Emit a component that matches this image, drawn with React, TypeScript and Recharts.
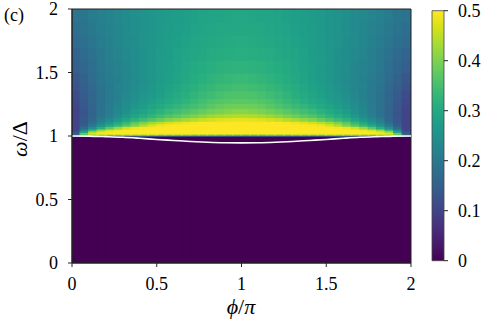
import React from "react";
import { BarChart, Bar, Cell, XAxis, YAxis, LineChart, Line, ReferenceArea } from "recharts";

// ---------- data ----------
// phase (phi/pi) at the centre of each heat-map column
const phiCenters = [
  0.025, 0.075, 0.125, 0.175, 0.225, 0.275, 0.325, 0.375, 0.425, 0.475,
  0.525, 0.575, 0.625, 0.675, 0.725, 0.775, 0.825, 0.875, 0.925, 0.975,
  1.025, 1.075, 1.125, 1.175, 1.225, 1.275, 1.325, 1.375, 1.425, 1.475,
  1.525, 1.575, 1.625, 1.675, 1.725, 1.775, 1.825, 1.875, 1.925, 1.975,
];
// energy (omega/Delta) bin edges above the gap edge; below 1 the map is 0
const omegaEdges = [1.0, 1.01, 1.02, 1.03, 1.045, 1.06, 1.08, 1.1, 1.12, 1.15, 1.18, 1.22, 1.26, 1.3, 1.36, 1.42, 1.5, 1.6, 1.7, 1.8, 1.9, 2.0];
const belowGapValue = 0;
// intensity of each cell, one row per omega bin (bottom to top), one value per phi column
const intensity = [
  [.08,.1,.12,.12,.12,.12,.12,.12,.12,.12, .12,.12,.12,.12,.12,.12,.12,.12,.12,.12, .12,.12,.12,.12,.12,.12,.12,.12,.12,.12, .12,.12,.12,.12,.12,.12,.12,.12,.1,.08],
  [.15,.35,.42,.43,.43,.43,.43,.43,.43,.43, .42,.42,.42,.42,.41,.41,.41,.4,.4,.4, .4,.4,.4,.41,.41,.41,.42,.42,.42,.42, .43,.43,.43,.43,.43,.43,.43,.42,.35,.15],
  [.16,.4,.485,.5,.5,.5,.5,.5,.5,.5, .5,.5,.5,.5,.5,.5,.5,.5,.5,.5, .5,.5,.5,.5,.5,.5,.5,.5,.5,.5, .5,.5,.5,.5,.5,.5,.5,.485,.4,.16],
  [.13,.3,.44,.485,.497,.5,.5,.5,.5,.5, .5,.5,.5,.5,.5,.5,.5,.5,.5,.5, .5,.5,.5,.5,.5,.5,.5,.5,.5,.5, .5,.5,.5,.5,.5,.497,.485,.44,.3,.13],
  [.11,.235,.335,.42,.468,.488,.497,.5,.5,.5, .5,.5,.5,.5,.5,.5,.5,.5,.5,.5, .5,.5,.5,.5,.5,.5,.5,.5,.5,.5, .5,.5,.5,.497,.488,.468,.42,.335,.235,.11],
  [.1,.17,.245,.31,.37,.42,.465,.485,.495,.5, .5,.5,.5,.5,.5,.5,.5,.5,.5,.5, .5,.5,.5,.5,.5,.5,.5,.5,.5,.5, .5,.495,.485,.465,.42,.37,.31,.245,.17,.1],
  [.1,.145,.2,.255,.295,.33,.365,.4,.44,.47, .487,.496,.5,.5,.5,.5,.5,.5,.5,.5, .5,.5,.5,.5,.5,.5,.5,.5,.496,.487, .47,.44,.4,.365,.33,.295,.255,.2,.145,.1],
  [.1,.14,.18,.225,.262,.3,.335,.37,.4,.425, .448,.466,.478,.488,.495,.5,.5,.5,.5,.5, .5,.5,.5,.5,.5,.495,.488,.478,.466,.448, .425,.4,.37,.335,.3,.262,.225,.18,.14,.1],
  [.1,.135,.165,.205,.234,.263,.292,.32,.34,.36, .38,.4,.414,.428,.442,.455,.465,.472,.477,.48, .48,.477,.472,.465,.455,.442,.428,.414,.4,.38, .36,.34,.32,.292,.263,.234,.205,.165,.135,.1],
  [.1,.133,.16,.19,.215,.24,.265,.29,.308,.325, .343,.36,.373,.386,.398,.41,.421,.43,.436,.44, .44,.436,.43,.421,.41,.398,.386,.373,.36,.343, .325,.308,.29,.265,.24,.215,.19,.16,.133,.1],
  [.102,.133,.158,.185,.207,.229,.25,.272,.288,.304, .32,.335,.347,.359,.37,.38,.391,.4,.406,.41, .41,.406,.4,.391,.38,.37,.359,.347,.335,.32, .304,.288,.272,.25,.229,.207,.185,.158,.133,.102],
  [.106,.135,.16,.186,.205,.224,.242,.26,.274,.288, .302,.315,.327,.338,.349,.36,.371,.38,.386,.39, .39,.386,.38,.371,.36,.349,.338,.327,.315,.302, .288,.274,.26,.242,.224,.205,.186,.16,.135,.106],
  [.11,.138,.162,.187,.204,.221,.237,.252,.265,.278, .29,.302,.313,.325,.336,.347,.357,.364,.369,.372, .372,.369,.364,.357,.347,.336,.325,.313,.302,.29, .278,.265,.252,.237,.221,.204,.187,.162,.138,.11],
  [.116,.142,.165,.188,.203,.217,.231,.245,.257,.269, .281,.292,.303,.314,.325,.335,.344,.352,.357,.36, .36,.357,.352,.344,.335,.325,.314,.303,.292,.281, .269,.257,.245,.231,.217,.203,.188,.165,.142,.116],
  [.125,.148,.169,.19,.203,.216,.228,.24,.252,.263, .274,.285,.295,.305,.315,.325,.333,.34,.344,.347, .347,.344,.34,.333,.325,.315,.305,.295,.285,.274, .263,.252,.24,.228,.216,.203,.19,.169,.148,.125],
  [.136,.155,.174,.193,.205,.217,.228,.238,.249,.26, .27,.28,.289,.298,.307,.315,.322,.328,.332,.335, .335,.332,.328,.322,.315,.307,.298,.289,.28,.27, .26,.249,.238,.228,.217,.205,.193,.174,.155,.136],
  [.148,.163,.18,.197,.209,.22,.23,.24,.25,.26, .269,.278,.286,.294,.301,.307,.313,.317,.32,.322, .322,.32,.317,.313,.307,.301,.294,.286,.278,.269, .26,.25,.24,.23,.22,.209,.197,.18,.163,.148],
  [.16,.173,.188,.202,.213,.224,.233,.242,.251,.26, .268,.276,.283,.29,.295,.3,.305,.309,.311,.313, .313,.311,.309,.305,.3,.295,.29,.283,.276,.268, .26,.251,.242,.233,.224,.213,.202,.188,.173,.16],
  [.172,.182,.195,.207,.217,.227,.236,.244,.252,.26, .267,.274,.28,.286,.291,.295,.299,.302,.304,.306, .306,.304,.302,.299,.295,.291,.286,.28,.274,.267, .26,.252,.244,.236,.227,.217,.207,.195,.182,.172],
  [.182,.19,.201,.212,.221,.23,.238,.245,.252,.259, .266,.272,.277,.282,.287,.291,.294,.297,.299,.3, .3,.299,.297,.294,.291,.287,.282,.277,.272,.266, .259,.252,.245,.238,.23,.221,.212,.201,.19,.182],
  [.19,.195,.205,.215,.223,.231,.238,.245,.252,.258, .264,.27,.275,.28,.284,.288,.291,.293,.295,.296, .296,.295,.293,.291,.288,.284,.28,.275,.27,.264, .258,.252,.245,.238,.231,.223,.215,.205,.195,.19],
];
// white curve: bound-state energy vs phase
const curvePhi = [0, 0.1, 0.2, 0.3, 0.4, 0.5, 0.6, 0.7, 0.8, 0.9, 1.0, 1.1, 1.2, 1.3, 1.4, 1.5, 1.6, 1.7, 1.8, 1.9, 2.0];
const curveOmega = [1.0, 0.999, 0.995, 0.99, 0.982, 0.973, 0.965, 0.957, 0.951, 0.947, 0.946, 0.947, 0.951, 0.957, 0.965, 0.973, 0.982, 0.99, 0.995, 0.999, 1.0];
// ticks
const xTicks = [0, 0.5, 1, 1.5, 2];
const yTicks = [0, 0.5, 1, 1.5, 2];
const cbTicks = [0, 0.1, 0.2, 0.3, 0.4, 0.5];
const cbMax = 0.5;

// ---------- colour map ----------
const VIRIDIS = ["#440154", "#48186a", "#472d7b", "#424086", "#3b528b", "#33638d", "#2c728e", "#26828e", "#21918c", "#1fa088", "#28ae80", "#3fbc73", "#5ec962", "#84d44b", "#addc30", "#d8e219", "#fde725"];
const hex = (h: string) => [parseInt(h.slice(1, 3), 16), parseInt(h.slice(3, 5), 16), parseInt(h.slice(5, 7), 16)];
function viridis(v: number): string {
  let t = typeof v === "number" ? v / cbMax : 0;
  if (!(t >= 0)) t = 0;
  if (t > 1) t = 1;
  const x = t * 16;
  const i = Math.min(15, Math.floor(x));
  const f = x - i;
  const a = hex(VIRIDIS[i]);
  const b = hex(VIRIDIS[i + 1]);
  const c = a.map((av, k) => Math.round(av + (b[k] - av) * f));
  return `rgb(${c[0]},${c[1]},${c[2]})`;
}

// ---------- tables built from the arrays ----------
const heatData = phiCenters.map((phi) => {
  const d: Record<string, number> = { phi, base: omegaEdges[0] };
  for (let i = 0; i < omegaEdges.length - 1; i++) d[`r${i}`] = omegaEdges[i + 1] - omegaEdges[i];
  return d;
});
const curveData = curvePhi.map((phi, i) => ({ phi, omega: curveOmega[i] }));
const cbData = [{ name: "cb", top: cbMax }];

const W = 498;
const H = 324;
const PL = 72; // plot left
const PT = 9; // plot top
const PR = 411; // plot right
const PB = 263; // plot bottom
const FONT = "'Liberation Serif', 'Times New Roman', serif";
const tickStyle = { fill: "#000", fontSize: 18, fontFamily: FONT };
const layer: React.CSSProperties = { position: "absolute", left: 0, top: 0 };

export default function App() {
  const base = viridis(belowGapValue);
  return (
    <div style={{ position: "absolute", left: 0, top: 0, width: W, height: H, background: "#fff", overflow: "hidden" }}>
      {/* heat map, clipped to the plot rectangle */}
      <div style={{ position: "absolute", left: PL, top: PT, width: PR - PL, height: PB - PT, overflow: "hidden" }}>
        <div style={{ position: "absolute", left: -PL, top: -PT }}>
          <BarChart width={W} height={H} data={heatData} margin={{ top: PT, right: W - PR, bottom: H - PB, left: PL }} barCategoryGap={0} barGap={0}>
            <XAxis dataKey="phi" type="category" hide />
            <YAxis type="number" domain={[0, 2]} hide allowDataOverflow />
            <Bar dataKey="base" stackId="h" fill={base} stroke={base} strokeWidth={2} isAnimationActive={false} />
            {intensity.map((row, i) => (
              <Bar key={i} dataKey={`r${i}`} stackId="h" isAnimationActive={false}>
                {row.map((v, j) => {
                  const c = viridis(v);
                  return <Cell key={j} fill={c} stroke={c} strokeWidth={2} />;
                })}
              </Bar>
            ))}
          </BarChart>
        </div>
      </div>
      {/* axes, frame and white curve */}
      <div style={layer}>
        <LineChart width={W} height={H} data={curveData} margin={{ top: PT, right: W - PR, bottom: H - PB - 30, left: PL - 40 }}>
          <XAxis dataKey="phi" type="number" domain={[0, 2]} ticks={xTicks} interval={0} height={30} tickSize={4} tickMargin={10} tick={tickStyle} stroke="#222" />
          <YAxis type="number" domain={[0, 2]} ticks={yTicks} interval={0} width={40} tickSize={4} tickMargin={10} tick={tickStyle} stroke="#222" />
          <ReferenceArea x1={0} x2={2} y1={0} y2={2} fill="none" stroke="#222" strokeWidth={1} ifOverflow="visible" />
          <Line dataKey="omega" type="monotone" stroke="#ffffff" strokeWidth={1.6} dot={false} isAnimationActive={false} />
        </LineChart>
      </div>
      {/* colour bar */}
      <div style={layer}>
        <BarChart width={W} height={H} data={cbData} margin={{ top: 10.7, right: 4, bottom: 63.3, left: 432 }} barCategoryGap={0}>
          <defs>
            <linearGradient id="cbGrad" x1="0" y1="1" x2="0" y2="0">
              {VIRIDIS.map((c, i) => (
                <stop key={i} offset={i / (VIRIDIS.length - 1)} stopColor={c} />
              ))}
            </linearGradient>
          </defs>
          <XAxis dataKey="name" type="category" hide />
          <YAxis orientation="right" type="number" domain={[0, cbMax]} ticks={cbTicks} interval={0} width={50} tickSize={4} tickMargin={10} tick={tickStyle} axisLine={false} stroke="#222" />
          <Bar dataKey="top" fill="url(#cbGrad)" stroke="#444" strokeWidth={0.8} isAnimationActive={false} />
        </BarChart>
      </div>
      {/* texts */}
      <div style={{ position: "absolute", left: 4, top: 5, fontFamily: FONT, fontSize: 18, color: "#000" }}>(c)</div>
      <div style={{ position: "absolute", left: 241, top: 307, transform: "translate(-50%, -50%)", fontFamily: FONT, fontSize: 22, color: "#000", whiteSpace: "nowrap" }}>
        <i>ϕ</i>/<i>π</i>
      </div>
      <div style={{ position: "absolute", left: 20, top: 139, transform: "translate(-50%, -50%) rotate(-90deg)", fontFamily: FONT, fontSize: 22, color: "#000", whiteSpace: "nowrap" }}>
        <i>ω</i>/Δ
      </div>
    </div>
  );
}
